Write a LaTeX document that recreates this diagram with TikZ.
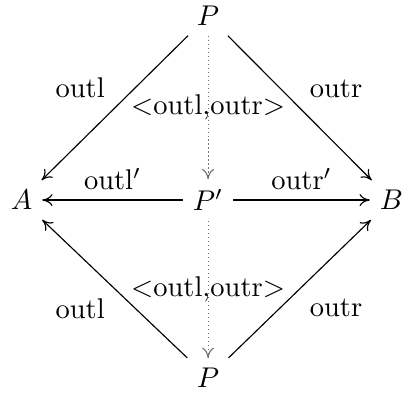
\documentclass[tikz,border=0pt]{standalone}
\usetikzlibrary{arrows.meta}
\tikzset{
    % object and arrow styles
    object/.style={
        inner sep=3.333pt
    },
    arrow/.style={
        -{Computer Modern Rightarrow[length=3.6pt, width=4.2pt]},
        line width=0.4pt
    },
    pairarrow/.style={
        -{Computer Modern Rightarrow[length=3.6pt, width=4.2pt]},
        line width=0.4pt,
        draw=black!55,
        densely dotted
    }
}

\begin{document}
\begin{tikzpicture}
    \useasboundingbox (-2.565,-2.367) rectangle (2.44,2.466);

    \node[object] (ptop) at (0,2.27) {$P$};
    \node[object] (pmid) at (0,0) {$P'$};
    \node[object] (pbot) at (0,-2.19) {$P$};
    \node[object] (a) at (-2.3,0) {$A$};
    \node[object] (b) at (2.26,0) {$B$};

    \draw[arrow] (ptop) -- node[above left] {outl} (a);
    \draw[arrow] (ptop) -- node[above right] {outr} (b);
    \draw[arrow] (pmid) -- node[above] {outl$'$} (a);
    \draw[arrow] (pmid) -- node[above] {outr$'$} (b);
    \draw[arrow] (pbot) -- node[below left] {outl} (a);
    \draw[arrow] (pbot) -- node[below right] {outr} (b);

    \draw[pairarrow] (ptop) -- node {<outl,outr>} (pmid);
    \draw[pairarrow] (pmid) -- node {<outl,outr>} (pbot);
\end{tikzpicture}
\end{document}
